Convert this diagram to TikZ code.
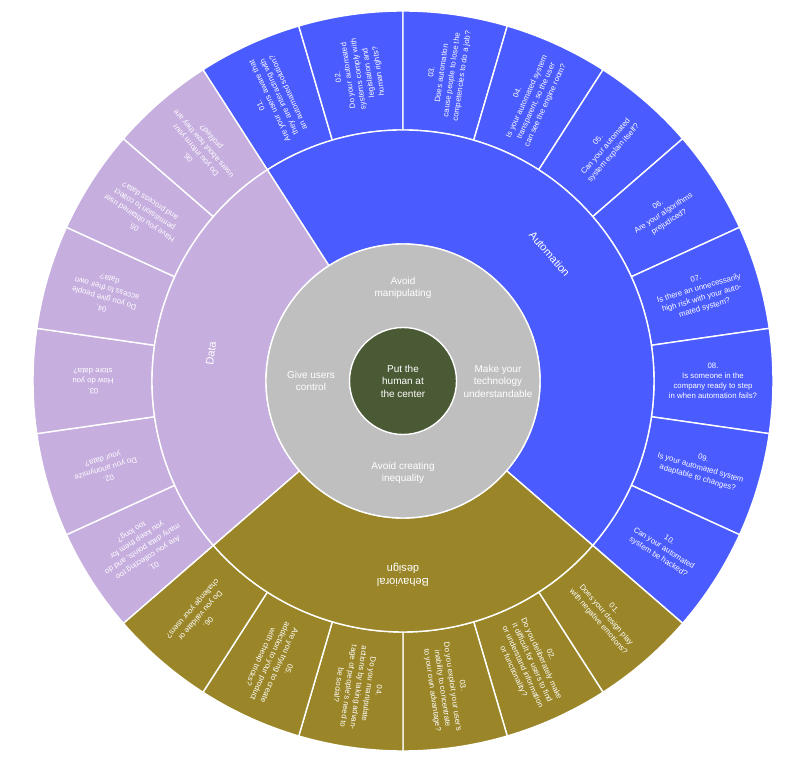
\documentclass[tikz,border=0pt]{standalone}
\usepackage{fontspec}
\setmainfont{Liberation Sans}
\definecolor{autoc}{HTML}{4A5BFF}
\definecolor{datac}{HTML}{C6AEDF}
\definecolor{behc}{HTML}{9A8629}
\definecolor{greyc}{HTML}{BFBFBF}
\definecolor{darkc}{HTML}{4A5A35}
\newcommand\myseg[5]{%
  \pgfmathsetmacro\aA{#2-(#3-1)*360/22}%
  \pgfmathsetmacro\aB{\aA-360/22}%
  \pgfmathsetmacro\aM{\aA-180/22}%
  \filldraw[fill=#1,sep] (\aA:251pt) -- (\aA:370pt) arc[start angle=\aA,end angle=\aB,radius=370pt] -- (\aB:251pt) arc[start angle=\aB,end angle=\aA,radius=251pt] -- cycle;
  \node[qtext,rotate=\aM] (#5) at (\aM:310pt) {#4};}
\newcommand\mymid[4]{%
  \filldraw[fill=#1,sep] (#2:137pt) -- (#2:251pt) arc[start angle=#2,end angle=#3,radius=251pt] -- (#3:137pt) arc[start angle=#3,end angle=#2,radius=137pt] -- cycle;}
\begin{document}
\begin{tikzpicture}[x=1pt,y=1pt,
  sep/.style={draw=white,line width=1.4pt},
  qtext/.style={text=white,align=center,inner sep=1pt,font=\fontsize{7.8}{10.2}\selectfont},
  midtext/.style={text=white,align=center,font=\fontsize{11}{13}\selectfont},
  intext/.style={text=white,align=center,font=\fontsize{10}{12.5}\selectfont}]
\useasboundingbox (0,0) rectangle (800,776);
\begin{scope}[shift={(403,395)}]
% automation
\myseg{autoc}{122.7273}{1}{01.\\Are your users aware that\\they are interacting with\\an automated solution?}{a1}
\myseg{autoc}{122.7273}{2}{02.\\Do your automated\\systems comply with\\legislation and\\human rights?}{a2}
\myseg{autoc}{122.7273}{3}{03.\\Does automation\\cause people to lose the\\competencies to do a job?}{a3}
\myseg{autoc}{122.7273}{4}{04.\\Is your automated system\\transparent, so the user\\can see the engine room?}{a4}
\myseg{autoc}{122.7273}{5}{05.\\Can your automated\\system explain itself?}{a5}
\myseg{autoc}{122.7273}{6}{06.\\Are your algorithms\\prejudiced?}{a6}
\myseg{autoc}{122.7273}{7}{07.\\Is there an unnecessarily\\high risk with your auto-\\mated system?}{a7}
\myseg{autoc}{122.7273}{8}{08.\\Is someone in the\\company ready to step\\in when automation fails?}{a8}
\myseg{autoc}{122.7273}{9}{09.\\Is your automated system\\adaptable to changes?}{a9}
\myseg{autoc}{122.7273}{10}{10.\\Can your automated\\system be hacked?}{a10}
% behavioral
\myseg{behc}{-40.9091}{1}{01.\\Does your design play\\with negative emotions?}{b1}
\myseg{behc}{-40.9091}{2}{02.\\Do you deliberately make\\it difficult for users to find\\or understand information\\or functionality?}{b2}
\myseg{behc}{-40.9091}{3}{03.\\Do you exploit your user's\\inability to concentrate\\to your own advantage?}{b3}
\myseg{behc}{-40.9091}{4}{04.\\Do you manipulate\\actions by taking advan-\\tage of people's need to\\be social?}{b4}
\myseg{behc}{-40.9091}{5}{05.\\Are you trying to create\\addiction to your product\\with cheap tricks?}{b5}
\myseg{behc}{-40.9091}{6}{06.\\Do you validate or\\challenge your users?}{b6}
% data
\myseg{datac}{-139.0909}{1}{01.\\Are you collecting too\\many data points, and do\\you keep them for\\too long?}{d1}
\myseg{datac}{-139.0909}{2}{02.\\Do you anonymize\\your data?}{d2}
\myseg{datac}{-139.0909}{3}{03.\\How do you\\store data?}{d3}
\myseg{datac}{-139.0909}{4}{04.\\Do you give people\\access to their own\\data?}{d4}
\myseg{datac}{-139.0909}{5}{05.\\Have you obtained user\\permission to collect\\and process data?}{d5}
\myseg{datac}{-139.0909}{6}{06.\\Do you inform your\\users about how they are\\profiled?}{d6}
% middle ring
\mymid{autoc}{122.7273}{-40.9091}{}
\mymid{behc}{-40.9091}{-139.0909}{}
\mymid{datac}{-139.0909}{-237.2727}{}
\node[midtext,rotate=-49.09] (ma) at (40.91:194pt) {Automation};
\node[midtext,rotate=-180] (mb) at (-90:194pt) {Behavioral\\design};
\node[midtext,rotate=81.82] (md) at (171.82:194pt) {Data};
% grey ring
\filldraw[fill=greyc,sep] (0,0) circle[radius=137pt];
\node[intext] (g1) at (90:93pt) {Avoid\\manipulating};
\node[intext] (g2) at (180:92pt) {Give users\\control};
\node[intext] (g3) at (0:95pt) {Make your\\technology\\understandable};
\node[intext] (g4) at (-90:92pt) {Avoid creating\\inequality};
% center
\filldraw[fill=darkc,sep] (0,0) circle[radius=53.5pt];
\node[intext] (c) at (0,0) {Put the\\human at\\the center};
\end{scope}
\end{tikzpicture}
\end{document}
